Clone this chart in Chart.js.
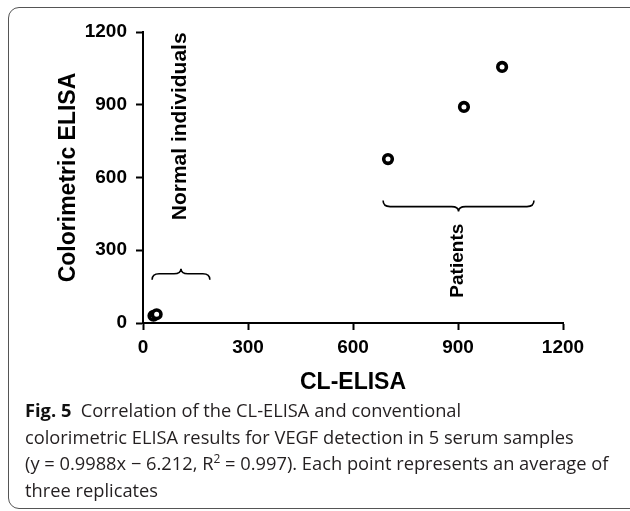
<!DOCTYPE html>
<html>
<head>
<meta charset="utf-8">
<script src="https://cdn.jsdelivr.net/npm/chart.js@4.4.1/dist/chart.umd.min.js"></script>
<style>
  html, body { margin: 0; padding: 0; background: #fff; }
  body { width: 630px; height: 511px; position: relative; overflow: hidden; }
  #frame {
    position: absolute; left: 8px; top: 7px; width: 640px; height: 502px;
    border: 1px solid #555; border-radius: 11px; box-sizing: border-box;
  }
  #wrap { position: absolute; left: 0; top: 0; width: 630px; height: 400px; }
  #caption {
    position: absolute; left: 25px; top: 397px; width: 600px;
    font-family: "Open Sans", sans-serif; font-size: 18.3px; line-height: 26.5px;
    color: #231f20; white-space: nowrap; letter-spacing: 0;
  }
  #caption b { font-weight: 700; color: #111; }
</style>
</head>
<body>
<div id="frame"></div>
<div id="wrap"><canvas id="chart"></canvas></div>
<div id="caption">
  <b>Fig. 5</b>&nbsp;&nbsp;Correlation of the CL-ELISA and conventional<br>
  colorimetric ELISA results for VEGF detection in 5 serum samples<br>
  (y = 0.9988x &minus; 6.212, R<sup style="font-size:12px;line-height:0">2</sup> = 0.997). Each point represents an average of<br>
  three replicates
</div>
<script>
// values
const normalX = [30, 39];
const normalY = [30, 36];
const patientX = [700, 917, 1026];
const patientY = [676, 891, 1056];
const tickValues = [0, 300, 600, 900, 1200];

// brace annotations (data units)
const braceLabels = ['Normal individuals', 'Patients'];
const braceFrom = [26, 686];
const braceTo = [191, 1117];
const braceAt = [203, 480];
const braceDir = [-1, 1];  // -1 = cusp up, 1 = cusp down
const labelX = [106, 900];
const labelY = [811, 257];
const labelSize = [21, 19];

const toPoints = (xs, ys) => xs.map((x, i) => ({ x: x, y: ys[i] }));

const braces = {
    id: 'braces',
    afterDatasetsDraw(chart) {
        const ctx = chart.ctx;
        const xs = chart.scales.x, ys = chart.scales.y;
        ctx.save();
        ctx.strokeStyle = '#000';
        ctx.lineWidth = 1.6;
        braceLabels.forEach((label, i) => {
            const x1 = xs.getPixelForValue(braceFrom[i]);
            const x2 = xs.getPixelForValue(braceTo[i]);
            const y = ys.getPixelForValue(braceAt[i]);
            const xm = (x1 + x2) / 2;
            const d = braceDir[i];
            const hEnd = 6, hTip = 5, q = 7;
            ctx.beginPath();
            ctx.moveTo(x1, y - d * hEnd);
            ctx.quadraticCurveTo(x1, y, x1 + q, y);
            ctx.lineTo(xm - q, y);
            ctx.quadraticCurveTo(xm, y, xm, y + d * hTip);
            ctx.quadraticCurveTo(xm, y, xm + q, y);
            ctx.lineTo(x2 - q, y);
            ctx.quadraticCurveTo(x2, y, x2, y - d * hEnd);
            ctx.stroke();

            ctx.save();
            ctx.translate(xs.getPixelForValue(labelX[i]), ys.getPixelForValue(labelY[i]));
            ctx.rotate(-Math.PI / 2);
            ctx.fillStyle = '#000';
            ctx.font = 'bold ' + labelSize[i] + 'px "Liberation Sans", Arial, sans-serif';
            ctx.textAlign = 'center';
            ctx.textBaseline = 'middle';
            ctx.fillText(label, 0, 0);
            ctx.restore();
        });
        ctx.restore();
    }
};

const pointStyle = {
    pointStyle: 'circle',
    pointRadius: 4.3,
    pointBorderWidth: 3.6,
    borderColor: '#000',
    backgroundColor: '#fff',
    showLine: false
};

const tickFont = { family: '"Liberation Sans", Arial, sans-serif', size: 19, weight: 'bold' };
const titleFont = { family: '"Liberation Sans", Arial, sans-serif', size: 23, weight: 'bold' };

new Chart(document.getElementById('chart'), {
    type: 'scatter',
    data: {
        datasets: [
            Object.assign({ label: 'Normal individuals', data: toPoints(normalX, normalY) }, pointStyle),
            Object.assign({ label: 'Patients', data: toPoints(patientX, patientY) }, pointStyle)
        ]
    },
    options: {
        responsive: true,
        maintainAspectRatio: false,
        animation: false,
        layout: { padding: { left: 0, top: 32, right: 67, bottom: 0 } },
        plugins: { legend: { display: false }, tooltip: { enabled: false } },
        scales: {
            x: {
                type: 'linear', min: 0, max: 1200,
                afterBuildTicks: (s) => { s.ticks = tickValues.map(v => ({ value: v })); },
                afterFit: (s) => { s.height = 77; },
                border: { display: true, color: '#000', width: 2 },
                grid: { drawOnChartArea: false, drawTicks: true, tickLength: 7, tickWidth: 2, tickColor: '#000' },
                ticks: { color: '#000', font: tickFont, padding: 6, maxRotation: 0, callback: (v) => String(v) },
                title: { display: true, text: 'CL-ELISA', color: '#000', font: titleFont, padding: { top: 0, bottom: 4 } }
            },
            y: {
                type: 'linear', min: 0, max: 1200,
                afterBuildTicks: (s) => { s.ticks = tickValues.map(v => ({ value: v })); },
                afterFit: (s) => { s.width = 143; },
                border: { display: true, color: '#000', width: 2 },
                grid: { drawOnChartArea: false, drawTicks: true, tickLength: 7, tickWidth: 2, tickColor: '#000' },
                ticks: { color: '#000', font: tickFont, padding: 9, callback: (v) => String(v) },
                title: { display: true, text: 'Colorimetric ELISA', color: '#000', font: titleFont, padding: { top: 55, bottom: 0 } }
            }
        }
    },
    plugins: [braces]
});
</script>
</body>
</html>
